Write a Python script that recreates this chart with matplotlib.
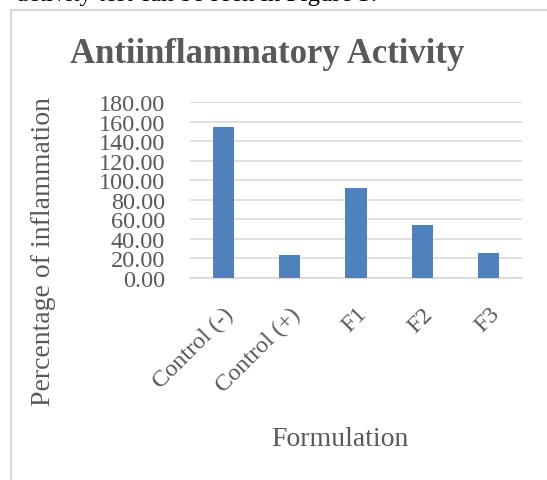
import matplotlib
matplotlib.use("Agg")
import matplotlib.pyplot as plt
from matplotlib.lines import Line2D

# data
categories = ["Control (-)", "Control (+)", "F1", "F2", "F3"]
inflammation = [154.1, 23.2, 92.0, 53.9, 25.3]
y_ticks = [0, 20, 40, 60, 80, 100, 120, 140, 160, 180]

grey_text = "#595959"
grid_col = "#D9D9D9"
bar_col = "#4F81BD"

plt.rcParams["font.family"] = ["Liberation Serif", "DejaVu Serif"]

W, H = 547, 481
fig = plt.figure(figsize=(W / 100, H / 100), dpi=100)

# cut off line of body text above the chart
fig.text(17 / W, 1 - 1 / H, "activity test can be seen in Figure 3.",
         fontsize=18, color="black", va="baseline", ha="left")

# chart frame (left and top edges visible)
fig.add_artist(Line2D([10.5 / W, 10.5 / W], [0, 1 - 10.5 / H],
                      transform=fig.transFigure, color=grid_col, lw=1.5))
fig.add_artist(Line2D([10.5 / W, 1], [1 - 10.5 / H, 1 - 10.5 / H],
                      transform=fig.transFigure, color=grid_col, lw=1.5))

ax = fig.add_axes([190 / W, 1 - 279 / H, 332 / W, 176 / H])
x = list(range(len(categories)))
ax.bar(x, inflammation, width=0.32, color=bar_col, zorder=3)

ax.set_xlim(-0.5, len(categories) - 0.5)
ax.set_ylim(0, 180)
ax.set_yticks(y_ticks)
ax.set_yticklabels([f"{v:.2f}" for v in y_ticks])
ax.yaxis.grid(True, color=grid_col, lw=1.2, zorder=0)
ax.set_axisbelow(True)
for s in ["left", "right", "top"]:
    ax.spines[s].set_visible(False)
ax.spines["bottom"].set_color(grid_col)
ax.spines["bottom"].set_linewidth(1.2)
ax.tick_params(axis="both", length=0, labelsize=17.5, colors=grey_text)
ax.tick_params(axis="y", pad=18)

ax.set_xticks(x)
ax.set_xticklabels(categories, rotation=45, ha="right",
                   rotation_mode="anchor")
ax.tick_params(axis="x", pad=18)

fig.text(267 / W, 1 - 63 / H, "Antiinflammatory Activity", fontsize=25,
         fontweight="bold", color=grey_text, ha="center", va="baseline")
fig.text(44 / W, 1 - 252 / H, "Percentage of inflammation", fontsize=20,
         color=grey_text, rotation=90, ha="center", va="center")
fig.text(340 / W, 1 - 440 / H, "Formulation", fontsize=20,
         color=grey_text, ha="center", va="center")

fig.savefig("out.png", dpi=100)
